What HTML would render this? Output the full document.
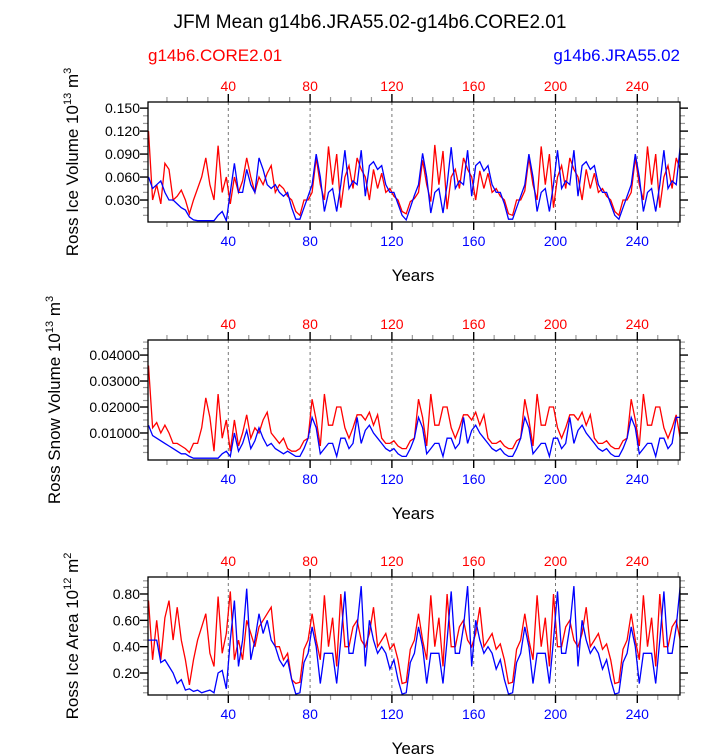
<!DOCTYPE html>
<html><head><meta charset="utf-8">
<style>
html,body{margin:0;padding:0;background:#fff;}
svg{display:block;font-family:"Liberation Sans",Helvetica,Arial,sans-serif;}
</style></head>
<body>
<svg id="chart" width="723" height="755" viewBox="0 0 723 755">
<text x="370" y="28" font-size="19" text-anchor="middle">JFM Mean g14b6.JRA55.02-g14b6.CORE2.01</text>
<text x="148" y="61" font-size="17" fill="#ff0000">g14b6.CORE2.01</text>
<text x="680" y="61" font-size="17" fill="#0000ff" text-anchor="end">g14b6.JRA55.02</text>
</svg>
<script>
// x positions: year index (1,3,5,...,261)
const years = [];
for (let y = 1; y <= 261; y += 2) years.push(y);
const xTicks = [40, 80, 120, 160, 200, 240];

const volCore = [0.12,0.03,0.05,0.025,0.078,0.07,0.03,0.035,0.043,0.03,0.012,0.03,0.045,0.06,0.085,0.05,0.03,0.101,0.04,0.06,0.025,0.06,0.04,0.055,0.085,0.06,0.04,0.06,0.05,0.065,0.075,0.04,0.05,0.045,0.035,0.03,0.015,
0.01,0.03,0.03,0.04,0.085,0.05,0.03,0.10,0.05,0.09,0.02,0.06,0.075,0.045,0.085,0.07,0.06,0.03,0.07,0.045,0.065,0.04,0.045,0.035,0.03,0.015,
0.012,0.028,0.032,0.04,0.082,0.05,0.028,0.102,0.05,0.094,0.018,0.06,0.07,0.045,0.085,0.07,0.06,0.03,0.068,0.045,0.065,0.04,0.045,0.035,0.03,0.012,
0.01,0.03,0.03,0.042,0.085,0.05,0.03,0.10,0.05,0.09,0.02,0.06,0.075,0.045,0.085,0.07,0.06,0.03,0.07,0.045,0.065,0.04,0.045,0.035,0.03,0.015,
0.01,0.03,0.03,0.04,0.085,0.05,0.03,0.10,0.05,0.09,0.02,0.06,0.075,0.045,0.085,0.07];
const volJra = [0.06,0.045,0.05,0.055,0.04,0.03,0.03,0.025,0.02,0.017,0.008,0.004,0.003,0.003,0.003,0.003,0.003,0.01,0.015,0.003,0.04,0.078,0.04,0.04,0.07,0.05,0.04,0.085,0.07,0.05,0.045,0.05,0.04,0.035,0.04,0.02,0.005,
0.005,0.02,0.035,0.05,0.09,0.06,0.015,0.04,0.045,0.015,0.05,0.095,0.045,0.055,0.05,0.095,0.035,0.075,0.08,0.07,0.075,0.05,0.04,0.04,0.025,0.01,
0.004,0.02,0.036,0.05,0.091,0.06,0.013,0.04,0.045,0.013,0.05,0.099,0.045,0.055,0.05,0.095,0.035,0.075,0.08,0.068,0.075,0.05,0.04,0.04,0.025,0.005,
0.005,0.02,0.035,0.05,0.09,0.06,0.015,0.04,0.045,0.015,0.05,0.095,0.045,0.055,0.05,0.095,0.035,0.075,0.08,0.07,0.075,0.05,0.04,0.04,0.025,0.01,
0.005,0.02,0.035,0.05,0.09,0.06,0.015,0.04,0.045,0.015,0.05,0.095,0.045,0.055,0.05,0.1];

const snowCore = [0.036,0.012,0.014,0.010,0.013,0.010,0.006,0.006,0.005,0.004,0.0025,0.006,0.006,0.012,0.0235,0.016,0.003,0.025,0.008,0.015,0.003,0.015,0.005,0.01,0.017,0.008,0.012,0.01,0.015,0.018,0.01,0.008,0.006,0.008,0.004,0.003,0.003,
0.004,0.007,0.008,0.023,0.015,0.005,0.025,0.013,0.013,0.020,0.020,0.012,0.008,0.012,0.017,0.017,0.015,0.018,0.013,0.017,0.008,0.006,0.006,0.007,0.005,0.004,
0.004,0.007,0.008,0.023,0.016,0.005,0.025,0.013,0.013,0.020,0.020,0.012,0.008,0.012,0.017,0.017,0.015,0.018,0.013,0.017,0.008,0.006,0.006,0.007,0.005,0.004,
0.004,0.007,0.008,0.023,0.015,0.005,0.025,0.013,0.013,0.020,0.020,0.012,0.008,0.012,0.017,0.017,0.015,0.018,0.013,0.017,0.008,0.006,0.006,0.007,0.005,0.004,
0.004,0.007,0.008,0.023,0.015,0.005,0.025,0.013,0.013,0.020,0.020,0.012,0.008,0.012,0.017,0.008];
const snowJra = [0.013,0.009,0.008,0.007,0.006,0.005,0.004,0.003,0.002,0.002,0.001,0.0003,0.0003,0.0003,0.0003,0.0003,0.0003,0.0003,0.002,0.003,0.001,0.010,0.003,0.006,0.011,0.004,0.007,0.012,0.008,0.005,0.006,0.004,0.003,0.002,0.003,0.002,0.001,
0.001,0.004,0.008,0.016,0.012,0.002,0.004,0.006,0.006,0.001,0.008,0.008,0.004,0.006,0.016,0.006,0.011,0.013,0.010,0.008,0.006,0.004,0.003,0.004,0.002,0.001,
0.001,0.004,0.008,0.016,0.012,0.002,0.004,0.006,0.006,0.001,0.008,0.008,0.004,0.006,0.016,0.006,0.011,0.013,0.010,0.008,0.006,0.004,0.003,0.004,0.002,0.001,
0.001,0.004,0.008,0.016,0.012,0.002,0.004,0.006,0.006,0.001,0.008,0.008,0.004,0.006,0.016,0.006,0.011,0.013,0.010,0.008,0.006,0.004,0.003,0.004,0.002,0.001,
0.001,0.004,0.008,0.016,0.012,0.002,0.004,0.006,0.006,0.001,0.008,0.008,0.004,0.006,0.016,0.016];

const areaCore = [0.75,0.3,0.6,0.3,0.62,0.75,0.45,0.7,0.45,0.3,0.11,0.3,0.45,0.55,0.65,0.35,0.25,0.78,0.35,0.5,0.82,0.3,0.45,0.3,0.6,0.5,0.4,0.55,0.6,0.65,0.7,0.4,0.4,0.3,0.35,0.15,0.12,
0.13,0.38,0.45,0.65,0.45,0.30,0.79,0.40,0.62,0.25,0.80,0.40,0.40,0.55,0.60,0.45,0.40,0.50,0.70,0.40,0.45,0.50,0.38,0.42,0.30,0.12,
0.13,0.38,0.45,0.65,0.45,0.30,0.79,0.40,0.62,0.25,0.80,0.40,0.40,0.55,0.60,0.45,0.40,0.50,0.70,0.40,0.45,0.50,0.38,0.42,0.30,0.12,
0.13,0.38,0.45,0.65,0.45,0.30,0.79,0.40,0.62,0.25,0.80,0.40,0.40,0.55,0.60,0.45,0.40,0.50,0.70,0.40,0.45,0.50,0.38,0.42,0.30,0.12,
0.13,0.38,0.45,0.65,0.45,0.30,0.79,0.40,0.62,0.25,0.80,0.40,0.40,0.55,0.60,0.45];
const areaJra = [0.45,0.45,0.45,0.28,0.3,0.25,0.2,0.12,0.15,0.07,0.08,0.06,0.07,0.05,0.06,0.07,0.05,0.2,0.22,0.08,0.45,0.75,0.25,0.45,0.84,0.3,0.45,0.65,0.5,0.6,0.45,0.4,0.3,0.25,0.3,0.15,0.04,
0.05,0.28,0.35,0.55,0.40,0.12,0.35,0.35,0.35,0.12,0.45,0.82,0.35,0.35,0.55,0.86,0.25,0.60,0.45,0.35,0.40,0.35,0.23,0.30,0.15,0.04,
0.05,0.28,0.35,0.55,0.40,0.12,0.35,0.35,0.35,0.12,0.45,0.82,0.35,0.35,0.55,0.86,0.25,0.60,0.45,0.35,0.40,0.35,0.23,0.30,0.15,0.04,
0.05,0.28,0.35,0.55,0.40,0.12,0.35,0.35,0.35,0.12,0.45,0.82,0.35,0.35,0.55,0.86,0.25,0.60,0.45,0.35,0.40,0.35,0.23,0.30,0.15,0.04,
0.05,0.28,0.35,0.55,0.40,0.12,0.35,0.35,0.35,0.12,0.45,0.82,0.35,0.35,0.55,0.86];

const volTicks = [0.03, 0.06, 0.09, 0.12, 0.15];
const volTickLabels = ["0.030","0.060","0.090","0.120","0.150"];
const snowTicks = [0.01, 0.02, 0.03, 0.04];
const snowTickLabels = ["0.01000","0.02000","0.03000","0.04000"];
const areaTicks = [0.2, 0.4, 0.6, 0.8];
const areaTickLabels = ["0.20","0.40","0.60","0.80"];

const NS = "http://www.w3.org/2000/svg";
const svg = document.getElementById("chart");
const X0 = 148, X1 = 680;
function xScale(yr){ return 146.5 + 2.045*yr; }
function mk(tag, attrs, parent){
  const e = document.createElementNS(NS, tag);
  for (const k in attrs) e.setAttribute(k, attrs[k]);
  (parent||svg).appendChild(e);
  return e;
}

function panel(cfg){
  const g = mk("g", {});
  
  
  const yS = v => cfg.yBot - (v - cfg.vMin)/(cfg.vMax - cfg.vMin)*(cfg.yBot - cfg.yTop);
  xTicks.forEach(t => {
    const l = mk("line", {x1:xScale(t),x2:xScale(t),y1:cfg.yTop,y2:cfg.yBot,stroke:"#777","stroke-width":1,"stroke-dasharray":"3,3"}, g);
    
    
  });
  for (let t = 10; t <= 260; t += 10){
    const major = t % 40 === 0;
    const len = major ? 8 : 5;
    const col = major ? "#000" : "#999";
    mk("line", {x1:xScale(t),x2:xScale(t),y1:cfg.yTop,y2:cfg.yTop-len,stroke:col,"stroke-width":major?1.4:1.2}, g);
    mk("line", {x1:xScale(t),x2:xScale(t),y1:cfg.yBot,y2:cfg.yBot+len,stroke:col,"stroke-width":major?1.4:1.2}, g);
  }
  for (let v = cfg.minorStart; v <= cfg.vMax + 1e-9; v += cfg.minorStep){
    const yy = yS(v);
    if (yy < cfg.yTop - 0.5 || yy > cfg.yBot + 0.5) continue;
    const isMaj = cfg.ticks.some(t => Math.abs(t - v) < 1e-7);
    const len = isMaj ? 8 : 5, col = isMaj ? "#000" : "#999";
    mk("line", {x1:X0,x2:X0-len,y1:yy,y2:yy,stroke:col,"stroke-width":isMaj?1.4:1.2}, g);
    mk("line", {x1:X1,x2:X1+len,y1:yy,y2:yy,stroke:col,"stroke-width":isMaj?1.4:1.2}, g);
  }
  cfg.ticks.forEach((t,i) => {
    const tx = mk("text", {x:140,y:yS(t)+5,"font-size":14,"text-anchor":"end"}, g);
    tx.textContent = cfg.labels[i];
    
    
  });
  xTicks.forEach(t => {
    const top = mk("text", {x:xScale(t),y:cfg.yTop-11,"font-size":14,"text-anchor":"middle",fill:"#ff0000"}, g);
    top.textContent = t;
    
    
    const bot = mk("text", {x:xScale(t),y:cfg.yBot+24,"font-size":14,"text-anchor":"middle",fill:"#0000ff"}, g);
    bot.textContent = t;
    
    
  });
  const clipId = "clip-" + cfg.name;
  const cp = mk("clipPath", {id:clipId}, g);
  mk("rect", {x:X0,y:cfg.yTop,width:X1-X0,height:cfg.yBot-cfg.yTop}, cp);
  const dRed = cfg.red.map((v,i) => (i?"L":"M") + xScale(years[i]).toFixed(1) + "," + yS(v).toFixed(1)).join("");
  const pr = mk("path", {d:dRed,fill:"none",stroke:"#ff0000","stroke-width":1.3,"clip-path":"url(#"+clipId+")"}, g);
  
  
  const dBlue = cfg.blue.map((v,i) => (i?"L":"M") + xScale(years[i]).toFixed(1) + "," + yS(v).toFixed(1)).join("");
  const pb = mk("path", {d:dBlue,fill:"none",stroke:"#0000ff","stroke-width":1.3,"clip-path":"url(#"+clipId+")"}, g);
  
  
  const fr = mk("rect", {x:X0,y:cfg.yTop,width:X1-X0,height:cfg.yBot-cfg.yTop,fill:"none",stroke:"#000","stroke-width":1.3}, g);
  
  
  const xt = mk("text", {x:413,y:cfg.yBot+59,"font-size":17,"text-anchor":"middle"}, g);
  xt.textContent = "Years";
  
  
  const cy = (cfg.yTop + cfg.yBot)/2;
  const yt = mk("text", {x:0,y:0,"font-size":17,"text-anchor":"middle",transform:"translate("+cfg.titleX+","+cy+") rotate(-90)"}, g);
  
  
  yt.appendChild(document.createTextNode(cfg.title + " 10"));
  const s1 = mk("tspan", {dy:-7,"font-size":11}, yt); s1.textContent = cfg.exp;
  const s2 = mk("tspan", {dy:7}, yt); s2.textContent = " m";
  const s3 = mk("tspan", {dy:-7,"font-size":11}, yt); s3.textContent = cfg.unitExp;
}

panel({name:"ice-volume-panel",yTop:102,yBot:222,vMin:0.0013,vMax:0.158,ticks:volTicks,labels:volTickLabels,minorStart:0.01,minorStep:0.01,red:volCore,blue:volJra,title:"Ross Ice Volume",exp:"13",unitExp:"3",titleX:78});
panel({name:"snow-volume-panel",yTop:340,yBot:460,vMin:-0.0004,vMax:0.0458,ticks:snowTicks,labels:snowTickLabels,minorStart:0.0025,minorStep:0.0025,red:snowCore,blue:snowJra,title:"Ross Snow Volume",exp:"13",unitExp:"3",titleX:60});
panel({name:"ice-area-panel",yTop:577,yBot:695,vMin:0.033,vMax:0.929,ticks:areaTicks,labels:areaTickLabels,minorStart:0.05,minorStep:0.05,red:areaCore,blue:areaJra,title:"Ross Ice Area",exp:"12",unitExp:"2",titleX:78});
</script>
</body></html>
